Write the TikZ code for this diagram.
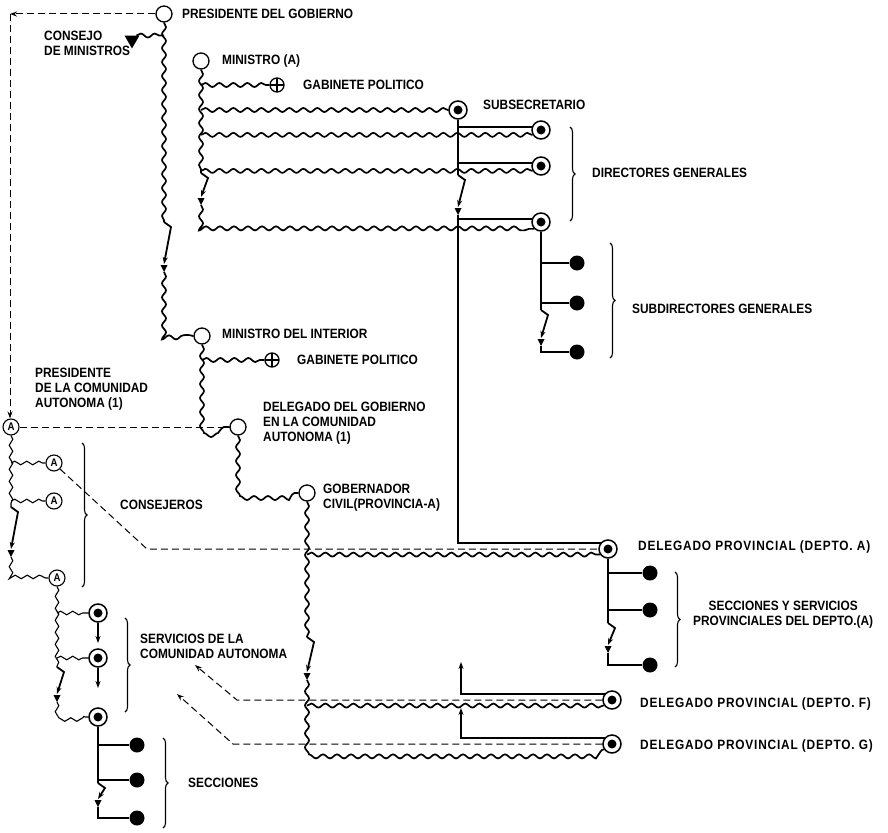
\documentclass[tikz,border=0pt]{standalone}
\usepackage{fontspec}
\setmainfont{Liberation Sans}[FakeStretch=0.88]
\usetikzlibrary{arrows.meta,decorations.pathmorphing,decorations.pathreplacing,shapes.geometric}

\tikzset{
  wavy/.style={decorate,decoration={snake,amplitude=2pt,segment length=14pt},line width=1.7pt},
  thinwavy/.style={wavy,line width=1.1pt,decoration={amplitude=1.8pt,segment length=12pt}},
  solidln/.style={line width=1.8pt},
  dashln/.style={line width=1pt,dash pattern=on 7pt off 4pt},
  office/.style={circle,draw,line width=1.3pt,fill=white,minimum size=16pt,inner sep=0pt},
  cabinet/.style={office,minimum size=14pt,path picture={%
    \draw[black,line width=1.3pt] (path picture bounding box.north) -- (path picture bounding box.south)
      (path picture bounding box.west) -- (path picture bounding box.east);}},
  ringdot/.style={office,minimum size=18pt,line width=1.5pt,path picture={%
    \fill[black] (path picture bounding box.center) circle (4.5pt);}},
  autonom/.style={office,minimum size=16pt,line width=1.1pt,font=\bfseries\fontsize{11}{11}\selectfont},
  unitdot/.style={circle,fill,minimum size=15pt,inner sep=0pt},
  council/.style={regular polygon,regular polygon sides=3,shape border rotate=180,fill,minimum size=17pt,inner sep=0pt},
  lbl/.style={anchor=west,align=left,inner sep=0pt,font=\bfseries\fontsize{13.5}{15}\selectfont},
  widelbl/.style={lbl,font=\bfseries\fontsize{13.5}{15}\selectfont\addfontfeature{LetterSpace=6}},
  bracket/.style={decorate,decoration={brace,amplitude=5pt},line width=1.1pt},
  tip/.style={-{Stealth[length=7pt,width=5pt]}},
  pics/breakmark/.style={code={%
    \draw[solidln,tip] (0,0) -- (7,5) -- (0,#1-8);
    \fill (-3.5,#1-7) -- (3.5,#1-7) -- (0,#1) -- cycle;}}
}

\begin{document}
\begin{tikzpicture}[x=1pt,y=-1pt]
\useasboundingbox (0,0) rectangle (888,832);
% government line
\node[office] (pg) at (164,14) {};
\node[lbl] at (182,14) {PRESIDENTE DEL GOBIERNO};
\node[council] (cm) at (132,40) {};
\node[lbl,anchor=north west] at (44,31) {CONSEJO\\DE MINISTROS};
\node[office] (ma) at (201,61) {};
\node[lbl] at (222,61) {MINISTRO (A)};
\node[cabinet] (ga1) at (277,85) {};
\node[lbl] at (303,85) {GABINETE POLITICO};
\node[ringdot] (ss) at (458,110) {};
\node[lbl] at (483,105) {SUBSECRETARIO};
\foreach \i/\y in {1/130,2/166,3/222} \node[ringdot] (dg\i) at (541,\y) {};
\node[lbl] at (592,173) {DIRECTORES GENERALES};
\foreach \i/\y in {1/263,2/303,3/352} \node[unitdot] (sd\i) at (577,\y) {};
\node[lbl] at (632,309) {SUBDIRECTORES GENERALES};
\node[office] (mi) at (202,336) {};
\node[lbl] at (222,334) {MINISTRO DEL INTERIOR};
\node[cabinet] (ga2) at (272,360) {};
\node[lbl] at (297,360) {GABINETE POLITICO};
\node[office] (dgc) at (238,427) {};
\node[lbl] at (263,423) {DELEGADO DEL GOBIERNO\\EN LA COMUNIDAD\\AUTONOMA (1)};
\node[office] (gob) at (307,493) {};
\node[lbl] at (323,498) {GOBERNADOR\\CIVIL(PROVINCIA-A)};
% provincial delegates
\node[ringdot] (dpa) at (608,549) {};
\node[ringdot] (dpf) at (612,700) {};
\node[ringdot] (dpg) at (612,744) {};
\node[widelbl] at (638,547) {DELEGADO PROVINCIAL (DEPTO. A)};
\node[widelbl] at (640,704) {DELEGADO PROVINCIAL (DEPTO. F)};
\node[widelbl] at (640,746) {DELEGADO PROVINCIAL (DEPTO. G)};
\foreach \i/\y in {1/573,2/610,3/665} \node[unitdot] (sa\i) at (650,\y) {};
\node[lbl,align=center] at (693,615) {SECCIONES Y SERVICIOS\\PROVINCIALES DEL DEPTO.(A)};
% autonomous community
\node[autonom] (pca) at (11,427) {A};
\node[lbl] at (35,389) {PRESIDENTE\\DE LA COMUNIDAD\\AUTONOMA (1)};
\node[autonom] (cs2) at (54,463) {A};
\node[autonom] (cs3) at (54,501) {A};
\node[autonom] (cs4) at (57,578) {A};
\node[lbl] at (120,505) {CONSEJEROS};
\foreach \i/\y in {1/613,2/658,3/717} \node[ringdot] (cas\i) at (98,\y) {};
\node[lbl] at (140,646) {SERVICIOS DE LA\\COMUNIDAD AUTONOMA};
\foreach \i/\y in {1/745,2/780,3/818} \node[unitdot] (sec\i) at (137,\y) {};
\node[lbl] at (188,783) {SECCIONES};

\coordinate (corner) at (10,14);
\coordinate (b1) at (164,222);  \coordinate (b1e) at (164,272);
\coordinate (b2) at (201,173);  \coordinate (b2e) at (201,205);
\coordinate (b3) at (458,175);  \coordinate (b3e) at (458,215);
\coordinate (b4) at (541,310);  \coordinate (b4e) at (541,346);
\coordinate (b5) at (307,637);  \coordinate (b5e) at (307,680);
\coordinate (b6) at (11,507);   \coordinate (b6e) at (11,557);
\coordinate (b7) at (57,667);   \coordinate (b7e) at (57,702);
\coordinate (b8) at (98,783);   \coordinate (b8e) at (98,807);
\coordinate (b9) at (608,623);  \coordinate (b9e) at (608,653);
\coordinate (fup) at (461,662); \coordinate (gup) at (461,708);
\coordinate (dk1) at (147,549); \coordinate (dk2) at (237,700); \coordinate (dk3) at (233,744);
\coordinate (sv1) at (195,665); \coordinate (sv2) at (177,694);
\coordinate (cad1) at (98,643); \coordinate (cad2) at (98,688);

% wavy lines of hierarchy
\draw[wavy] (cm.north east) -- (cm.north east -| pg);
\draw[wavy] (pg.south) -- (b1);
\pic at (b1) {breakmark=50};
\draw[wavy] (b1e) |- (mi.west);
\draw[wavy] (ma.south) -- (b2);
\pic at (b2) {breakmark=32};
\draw[wavy] (b2e) |- (dg3.225);
\draw[wavy] (ga1 -| ma) -- (ga1.west);
\draw[wavy] (ss -| ma) -- (ss.west);
\draw[wavy] (dg1.210 -| ma) -- (dg1.210);
\draw[wavy] (dg2.210 -| ma) -- (dg2.210);
\draw[wavy] (mi.south) |- (dgc.west);
\draw[wavy] (ga2 -| mi) -- (ga2.west);
\draw[wavy] (dgc.south) |- (gob.west);
\draw[wavy] (gob.south) -- (b5);
\pic at (b5) {breakmark=43};
\draw[wavy] (b5e) |- (dpg.215);
\draw[wavy] (dpa.215 -| gob) -- (dpa.215);
\draw[wavy] (dpf.215 -| gob) -- (dpf.215);

% solid lines
\draw[solidln] (ss.south) -- (b3);
\foreach \i in {1,2,3} \draw[solidln] (dg\i.160 -| ss) -- (dg\i.160);
\pic at (b3) {breakmark=40};
\draw[solidln] (b3e) |- (dpa.140);
\draw[solidln] (dg3.south) -- (b4);
\foreach \i in {1,2} \draw[solidln] (sd\i -| dg3) -- (sd\i);
\pic at (b4) {breakmark=36};
\draw[solidln] (b4e) |- (sd3);
\draw[solidln,tip] (dpf.140) -| (fup);
\draw[solidln,tip] (dpg.140) -| (gup);
\draw[solidln] (dpa.south) -- (b9);
\foreach \i in {1,2} \draw[solidln] (sa\i -| dpa) -- (sa\i);
\pic at (b9) {breakmark=30};
\draw[solidln] (b9e) |- (sa3);

% dashed lines
\draw[dashln,tip] (pg.west) -- (corner);
\draw[dashln,tip] (corner) -- (corner |- pca.north);
\draw[dashln] (pca.east) -- (dgc.west);
\draw[dashln] (cs2.south east) -- (dk1) -- (dpa.west);
\draw[dashln,tip] (dpf.west) -- (dk2) -- (sv1);
\draw[dashln,tip] (dpg.west) -- (dk3) -- (sv2);

% autonomous community lines
\draw[thinwavy] (pca.south) -- (b6);
\draw[thinwavy] (cs2 -| pca) -- (cs2.west);
\draw[thinwavy] (cs3 -| pca) -- (cs3.west);
\pic at (b6) {breakmark=50};
\draw[thinwavy] (b6e) |- (cs4.west);
\draw[thinwavy] (cs4.south) -- (b7);
\foreach \i in {1,2} \draw[thinwavy] (cas\i -| b7) -- (cas\i.west);
\pic at (b7) {breakmark=35};
\draw[thinwavy] (b7e) |- (cas3.west);
\foreach \i in {1,2} \draw[solidln,tip] (cas\i.south) -- (cad\i);
\draw[solidln] (cas3.south) -- (b8);
\foreach \i in {1,2} \draw[solidln] (sec\i -| cas3) -- (sec\i);
\pic at (b8) {breakmark=24};
\draw[solidln] (b8e) |- (sec3);

% braces
\draw[bracket] (570,127) -- (570,221);
\draw[bracket] (610,243) -- (610,358);
\draw[bracket] (675,572) -- (675,667);
\draw[bracket] (82,443) -- (82,587);
\draw[bracket] (125,618) -- (125,712);
\draw[bracket] (163,738) -- (163,828);
\end{tikzpicture}
\end{document}
